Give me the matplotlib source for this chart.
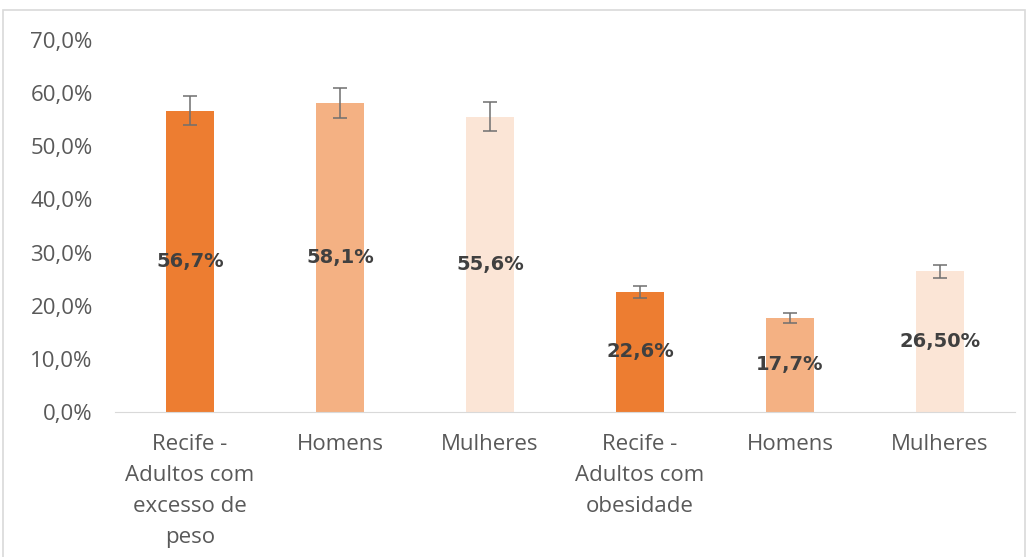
import numpy as np
import matplotlib.pyplot as plt
from matplotlib.patches import Rectangle

plt.rcParams['font.family'] = ['Open Sans', 'DejaVu Sans']

categories = ["Recife -\nAdultos com\nexcesso de\npeso", "Homens", "Mulheres",
              "Recife -\nAdultos com\nobesidade", "Homens", "Mulheres"]
values = [56.7, 58.1, 55.6, 22.6, 17.7, 26.5]
errors = [2.7, 2.8, 2.8, 1.1, 0.9, 1.25]
value_labels = ["56,7%", "58,1%", "55,6%", "22,6%", "17,7%", "26,50%"]
colors = ["#ED7D31", "#F4B183", "#FBE5D6", "#ED7D31", "#F4B183", "#FBE5D6"]

fig = plt.figure(figsize=(10.35, 5.57), dpi=100)
ax = fig.add_axes([115 / 1035, 1 - 412 / 557, 900 / 1035, 372 / 557])

x = np.arange(len(values))
ax.bar(x, values, width=0.32, color=colors, zorder=2)
ax.errorbar(x, values, yerr=errors, fmt='none', ecolor='#6f6f6f',
            elinewidth=1.1, capsize=4.7, capthick=1.1, zorder=3)

for xi, v, lab in zip(x, values, value_labels):
    ax.text(xi, v / 2, lab, ha='center', va='center', fontsize=14,
            fontweight='bold', family='DejaVu Sans', color='#404040', zorder=4)

ax.set_xlim(-0.5, len(values) - 0.5)
ax.set_ylim(0, 70)
ax.set_yticks(np.arange(0, 71, 10))
ax.set_yticklabels([f"{t:.1f}%".replace('.', ',') for t in np.arange(0, 71, 10)])
ax.set_xticks(x)
ax.set_xticklabels(categories, linespacing=1.62)
ax.tick_params(axis='both', length=0, labelsize=16, labelcolor='#595959')
ax.tick_params(axis='y', pad=16)
ax.tick_params(axis='x', pad=16)

for s in ['top', 'right', 'left']:
    ax.spines[s].set_visible(False)
ax.spines['bottom'].set_color('#d9d9d9')

fig.patches.append(Rectangle((3 / 1035, -0.01), 1022 / 1035, 1 - 10 / 557 + 0.01,
                             transform=fig.transFigure, fill=False,
                             edgecolor='#d9d9d9', linewidth=1.2))

fig.savefig("out.png", dpi=100)
